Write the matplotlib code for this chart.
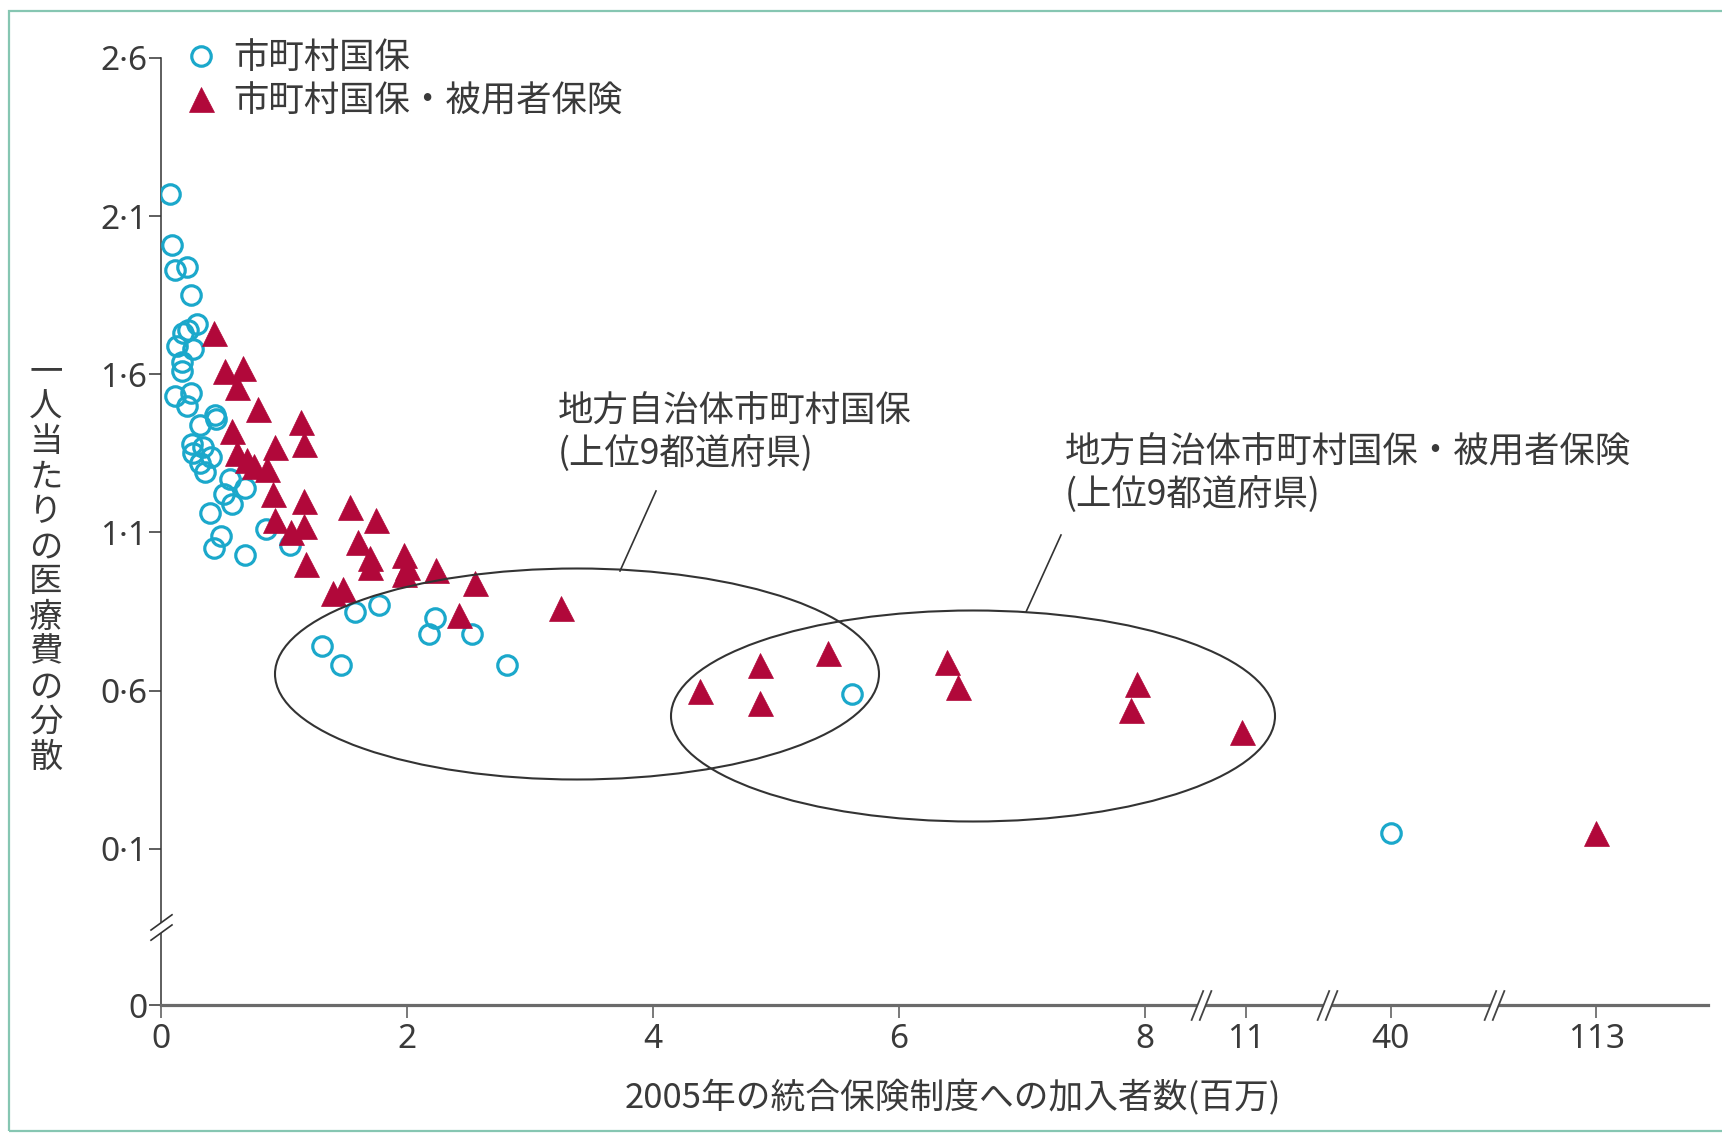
import numpy as np
import matplotlib
matplotlib.use("Agg")
import matplotlib.pyplot as plt
from matplotlib.patches import Ellipse, Rectangle
from matplotlib.lines import Line2D
from matplotlib.path import Path

plt.rcParams['font.family'] = ['Noto Sans CJK JP', 'DejaVu Sans']

W, H, DPI = 1722, 1136, 100

# --- data: enrolment (millions) vs. variance of per-capita medical cost ---
kokuho_x = [0.07, 0.09, 0.11, 0.21, 0.24, 0.29, 0.22,
            0.13, 0.26, 0.18, 0.17, 0.17, 0.11, 0.24, 0.21, 0.44, 0.32, 0.45,
            0.25, 0.34, 0.26, 0.41, 0.32, 0.36,
            0.56, 0.68, 0.51, 0.58, 0.40, 0.49, 0.43, 0.68, 0.85, 1.05,
            1.58, 1.77, 1.31, 1.46, 2.23, 2.18, 2.53, 2.81,
            5.62, 40]
kokuho_y = [2.17, 2.01, 1.93, 1.94, 1.85, 1.76, 1.74,
            1.69, 1.68, 1.73, 1.64, 1.61, 1.53, 1.54, 1.50, 1.47, 1.44, 1.46,
            1.38, 1.37, 1.35, 1.34, 1.32, 1.29,
            1.27, 1.24, 1.22, 1.19, 1.16, 1.09, 1.05, 1.03, 1.11, 1.06,
            0.85, 0.87, 0.74, 0.68, 0.83, 0.78, 0.78, 0.68,
            0.59, 0.15]

combined_x = [0.43, 0.52, 0.67, 0.62, 0.79, 1.14, 1.16, 0.58, 0.93, 0.62,
              0.76, 0.86, 0.70, 0.91, 1.16, 0.93, 1.16, 1.06, 1.54, 1.75,
              1.60, 1.70, 1.98, 2.00, 2.24, 2.55, 1.18, 1.40, 1.48, 1.70,
              1.98, 2.42, 3.25, 4.38, 4.87, 4.87, 5.42, 6.39, 6.48, 7.94,
              7.89, 10.9, 113]
combined_y = [1.73, 1.61, 1.62, 1.56, 1.49, 1.45, 1.38, 1.42, 1.37, 1.35,
              1.31, 1.30, 1.33, 1.22, 1.20, 1.14, 1.12, 1.10, 1.18, 1.14,
              1.07, 1.02, 1.03, 0.99, 0.98, 0.94, 1.00, 0.91, 0.92, 0.99,
              0.97, 0.84, 0.86, 0.60, 0.68, 0.56, 0.72, 0.69, 0.61, 0.62,
              0.54, 0.47, 0.15]

x_ticks = [0, 2, 4, 6, 8, 11, 40, 113]
x_tick_labels = ['0', '2', '4', '6', '8', '11', '40', '113']
y_ticks = [0, 0.1, 0.6, 1.1, 1.6, 2.1, 2.6]
y_tick_labels = ['0', '0·1', '0·6', '1·1', '1·6', '2·1', '2·6']

legend_labels = ['市町村国保', '市町村国保・被用者保険']
group1_lines = ['地方自治体市町村国保', '(上位9都道府県)']
group2_lines = ['地方自治体市町村国保・被用者保険', '(上位9都道府県)']
x_title = '2005年の統合保険制度への加入者数(百万)'
y_title = '一人当たりの医療費の分散'

# --- broken axes: piecewise-linear scales ---
X_REAL = [0, 8, 11, 40, 113, 200]
X_POS = [0, 8, 8.82, 10.0, 11.67, 12.6]
Y_REAL = [0, 0.1, 10]
Y_POS = [-0.394, 0.1, 10]


def x_fwd(v):
    return np.interp(v, X_REAL, X_POS)


def x_inv(p):
    return np.interp(p, X_POS, X_REAL)


def y_fwd(v):
    return np.interp(v, Y_REAL, Y_POS)


def y_inv(p):
    return np.interp(p, Y_POS, Y_REAL)


CYAN = '#1ba8cb'
CRIMSON = '#b1083a'
TXT = '#3a3a3a'

fig = plt.figure(figsize=(W / DPI, H / DPI), dpi=DPI)
fig.patch.set_facecolor('white')


def fx(x):
    return x / W


def fy(y):
    return 1 - y / H


ax = fig.add_axes([fx(161), fy(1005), (1708 - 161) / W, (1005 - 58) / H])
ax.set_xscale('function', functions=(x_fwd, x_inv))
ax.set_yscale('function', functions=(y_fwd, y_inv))
ax.set_xlim(0, float(x_inv(12.58)))
ax.set_ylim(0, 2.6)

ax.plot(kokuho_x, kokuho_y, ls='none', marker='o', ms=14, mfc='none',
        mec=CYAN, mew=2.3, label=legend_labels[0], zorder=3)
ax.plot(combined_x, combined_y, ls='none', marker='^', ms=18, mfc=CRIMSON,
        mec=CRIMSON, mew=0.5, label=legend_labels[1], zorder=4)

for s in ('top', 'right'):
    ax.spines[s].set_visible(False)
ax.spines['left'].set_color('#333333')
ax.spines['left'].set_linewidth(1.1)
ax.spines['bottom'].set_color('#6a6a6a')
ax.spines['bottom'].set_linewidth(2.3)

ax.set_xticks(x_ticks)
ax.set_xticklabels(x_tick_labels)
ax.set_yticks(y_ticks)
ax.set_yticklabels(y_tick_labels)
ax.tick_params(axis='x', direction='out', length=9, width=1.1, color='#555555',
               pad=4, labelsize=24, labelcolor=TXT)
ax.tick_params(axis='y', direction='out', length=9, width=1.1, color='#333333',
               pad=1, labelsize=24, labelcolor=TXT)
for lab in ax.get_xticklabels() + ax.get_yticklabels():
    lab.set_fontfamily(['Noto Sans', 'DejaVu Sans'])
ax.patch.set_alpha(0)

# axis break marks ("//")
gap_fill = Path([(-10, -15), (-2, -15), (10, 15), (2, 15), (-10, -15)])
slashes = Path([(-10, -15), (2, 15), (-2, -15), (10, 15)],
               [Path.MOVETO, Path.LINETO, Path.MOVETO, Path.LINETO])
x_break_pos = [8.46, 9.48, 10.84]
for p in x_break_pos:
    bx = float(x_inv(p))
    ax.plot([bx], [0], marker=gap_fill, ms=22, mfc='white', mec='white',
            mew=0, clip_on=False, zorder=5)
    ax.plot([bx], [0], marker=slashes, ms=22, mfc='none', mec='#444444',
            mew=1.3, clip_on=False, zorder=6)

y_gap = Path([(-11, -13), (11, 3), (11, 13), (-11, -3), (-11, -13)])
y_slashes = Path([(-11, -13), (11, 3), (-11, -3), (11, 13)],
                 [Path.MOVETO, Path.LINETO, Path.MOVETO, Path.LINETO])
by = float(y_inv(-0.147))
ax.plot([0], [by], marker=y_gap, ms=19, mfc='white', mec='white', mew=0,
        clip_on=False, zorder=5)
ax.plot([0], [by], marker=y_slashes, ms=19, mfc='none', mec='#333333',
        mew=1.2, clip_on=False, zorder=6)

# legend
leg = ax.legend(loc='upper left', bbox_to_anchor=(fx(187), fy(40)),
                bbox_transform=fig.transFigure, frameon=False, fontsize=25.5,
                handlelength=0.8, handletextpad=0.5, labelspacing=0.2,
                borderpad=0, borderaxespad=0, numpoints=1)
for t in leg.get_texts():
    t.set_color(TXT)

# group ellipses and leader lines
for cx, cy in [(577, 674), (973, 716)]:
    fig.add_artist(Ellipse((fx(cx), fy(cy)), 604 / W, 211 / H,
                           transform=fig.transFigure, fill=False,
                           ec='#333333', lw=1.5, zorder=2))
for (x0, y0), (x1, y1) in [((656, 491), (620, 571)), ((1061, 535), (1026, 612))]:
    fig.add_artist(Line2D([fx(x0), fx(x1)], [fy(y0), fy(y1)],
                          transform=fig.transFigure, color='#333333', lw=1.2))

for lines, (tx, ty) in [(group1_lines, (558, 412)), (group2_lines, (1065, 453))]:
    for i, line in enumerate(lines):
        fig.text(fx(tx), fy(ty + i * 42), line, ha='left', va='center',
                 fontsize=25.5, color=TXT)

# axis titles
fig.text(fx(953), fy(1098), x_title, ha='center', va='center', fontsize=25,
         color=TXT)
for i, ch in enumerate(y_title):
    fig.text(fx(46), fy(372 + i * 35), ch, ha='center', va='center',
             fontsize=24, color=TXT)

# outer frame
fig.add_artist(Rectangle((fx(9), fy(1131)), 1.0, (1131 - 11) / H,
                         transform=fig.transFigure, fill=False,
                         ec='#86c6b2', lw=1.6))

fig.savefig('out.png', dpi=DPI, facecolor='white')
